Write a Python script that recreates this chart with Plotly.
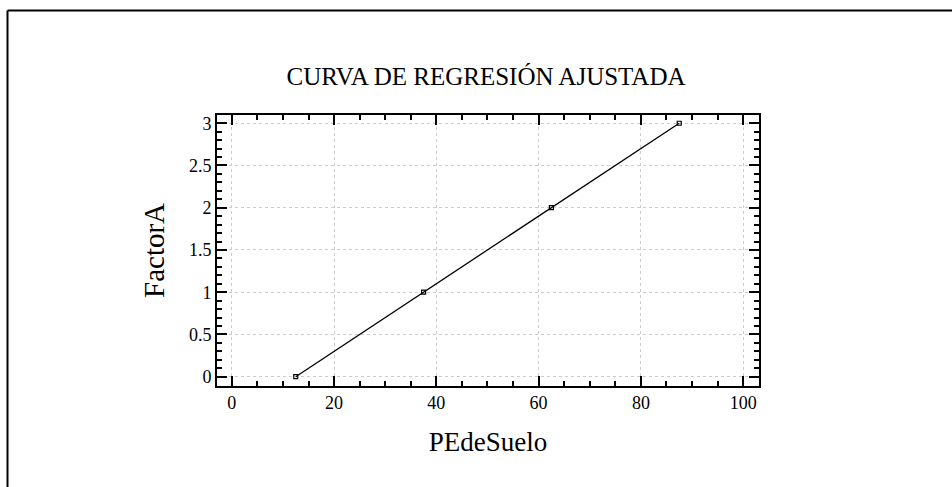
import plotly.graph_objects as go

# Observed data
pe_de_suelo = [12.5, 37.5, 62.5, 87.5]
factor_a = [0, 1, 2, 3]

x_ticks = [0, 20, 40, 60, 80, 100]
y_ticks = [0, 0.5, 1, 1.5, 2, 2.5, 3]
y_tick_text = ["0", "0.5", "1", "1.5", "2", "2.5", "3"]

W, H = 952, 487
serif = "Liberation Serif, Times New Roman, serif"

fig = go.Figure()

fig.add_trace(go.Scatter(
    x=pe_de_suelo, y=factor_a,
    mode="lines+markers",
    line=dict(color="black", width=1.3),
    marker=dict(symbol="square-open", size=4, color="black", line=dict(width=1.2)),
    showlegend=False,
    hoverinfo="skip",
))

axis_common = dict(
    showline=True, linecolor="black", linewidth=2,
    mirror="ticks",
    ticks="inside", ticklen=10, tickwidth=1.5, tickcolor="black",
    showgrid=True, gridcolor="#cccccc", griddash="dot", gridwidth=1,
    zeroline=False,
    tickfont=dict(family=serif, size=18, color="black"),
)

fig.update_xaxes(
    **axis_common,
    range=[-2.9, 103.1],
    tickvals=x_ticks,
    minor=dict(dtick=5, tick0=0, ticks="inside", ticklen=5, tickwidth=1.5,
               tickcolor="black", showgrid=False),
    domain=[217 / W, 759 / W],
    title=dict(text="PEdeSuelo", font=dict(family=serif, size=27, color="black"),
               standoff=20),
)
fig.update_yaxes(
    **axis_common,
    range=[-0.106, 3.094],
    tickvals=y_ticks, ticktext=y_tick_text,
    minor=dict(dtick=0.1, tick0=0, ticks="inside", ticklen=5, tickwidth=1.5,
               tickcolor="black", showgrid=False),
    domain=[(H - 386) / H, (H - 114) / H],
    title=dict(text="FactorA", font=dict(family=serif, size=29, color="black"),
               standoff=16),
)

fig.update_layout(
    width=W, height=H,
    margin=dict(l=0, r=0, t=0, b=0),
    paper_bgcolor="white", plot_bgcolor="white",
    title=dict(text="CURVA DE REGRESIÓN AJUSTADA", x=486 / W, xanchor="center",
               y=1 - 76 / H, yanchor="middle",
               font=dict(family=serif, size=25, color="black")),
    shapes=[
        # outer frame, open on the right and bottom edges
        dict(type="line", xref="paper", yref="paper", x0=7.5 / W, x1=1.01,
             y0=1 - 8.5 / H, y1=1 - 8.5 / H, line=dict(color="black", width=2)),
        dict(type="line", xref="paper", yref="paper", x0=7.5 / W, x1=7.5 / W,
             y0=-0.01, y1=1 - 8.5 / H, line=dict(color="black", width=2)),
    ],
)

fig.write_html("out.html")
